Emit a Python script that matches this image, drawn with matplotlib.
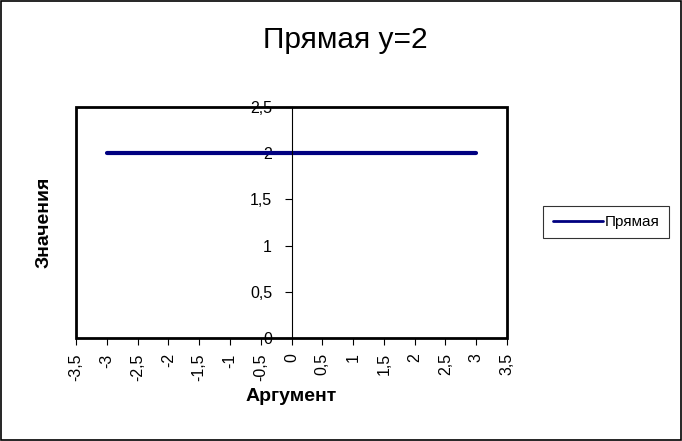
import matplotlib
matplotlib.use("Agg")
import matplotlib.pyplot as plt
from matplotlib.patches import Rectangle
from matplotlib.ticker import FixedLocator, FuncFormatter

plt.rcParams['font.family'] = ['Liberation Sans', 'DejaVu Sans']

title = "Прямая y=2"
x_label = "Аргумент"
y_label = "Значения"
series_name = "Прямая"
x_values = [-3, -2.5, -2, -1.5, -1, -0.5, 0, 0.5, 1, 1.5, 2, 2.5, 3]
y_values = [2, 2, 2, 2, 2, 2, 2, 2, 2, 2, 2, 2, 2]
x_ticks = [-3.5, -3, -2.5, -2, -1.5, -1, -0.5, 0, 0.5, 1, 1.5, 2, 2.5, 3, 3.5]
y_ticks = [0, 0.5, 1, 1.5, 2, 2.5]

def fmt(v, pos=None):
    s = ("%g" % v).replace('.', ',')
    return s

fig = plt.figure(figsize=(6.82, 4.41), dpi=100)
fig.patches.append(Rectangle((0.001, 0.002), 0.997, 0.996, transform=fig.transFigure,
                             fill=False, edgecolor='black', lw=1.2))

ax = fig.add_axes([76/682, 1-338/441, (507-76)/682, (338-107)/441])
ax.plot(x_values, y_values, color='#000080', lw=3, label=series_name, solid_capstyle='round')
ax.set_xlim(-3.5, 3.5)
ax.set_ylim(0, 2.5)

for s in ['top', 'right', 'bottom']:
    ax.spines[s].set_visible(False)
ax.spines['left'].set_position(('data', 0))
ax.spines['left'].set_linewidth(0.8)
ax.add_patch(Rectangle((0, 0), 1, 1, transform=ax.transAxes, fill=False,
                       edgecolor='black', lw=2, clip_on=False, zorder=5))

ax.xaxis.set_major_locator(FixedLocator(x_ticks))
ax.yaxis.set_major_locator(FixedLocator(y_ticks))
ax.xaxis.set_major_formatter(FuncFormatter(fmt))
ax.yaxis.set_major_formatter(FuncFormatter(fmt))
ax.tick_params(axis='x', direction='out', length=5, width=0.8, labelsize=11.5,
               labelrotation=90, pad=6)
ax.tick_params(axis='y', direction='out', length=5, width=0.8, labelsize=11.5, pad=9)

ax.set_xlabel(x_label, fontsize=14, fontweight='bold', labelpad=5)
ax.set_ylabel(y_label, fontsize=14, fontweight='bold')
ax.yaxis.set_label_coords(-0.055, 0.5)

fig.text(0.5 + 0.007, 1-40/441, title, fontsize=21.5, ha='center', va='center')

leg = fig.legend(loc='center', bbox_to_anchor=(606/682, 1-222/441), fontsize=11,
                 frameon=True, fancybox=False, edgecolor='black', handlelength=3.3,
                 handletextpad=0.1, borderpad=0.6, borderaxespad=0)
leg.get_frame().set_linewidth(0.8)
leg.get_lines()[0].set_linewidth(2)

fig.savefig("out.png", dpi=100)
